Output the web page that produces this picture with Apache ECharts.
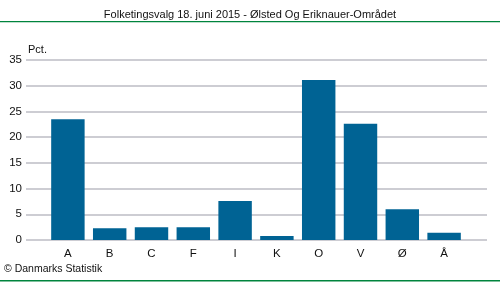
<!DOCTYPE html>
<html><head><meta charset="utf-8">
<script src="https://cdn.jsdelivr.net/npm/echarts@6/dist/echarts.min.js"></script>
<style>html,body{margin:0;padding:0;background:#fff}#c{width:500px;height:282px}</style>
</head><body><div id="c"></div>
<script>
const categories = ['A','B','C','F','I','K','O','V','Ø','Å'];
const values = [23.5, 2.3, 2.5, 2.5, 7.6, 0.8, 31.1, 22.6, 6.0, 1.4];
const yTicks = [0,5,10,15,20,25,30,35];
const titleText = 'Folketingsvalg 18. juni 2015 - Ølsted Og Eriknauer-Området';
const unitText = 'Pct.';
const footerText = '© Danmarks Statistik';

const font = 'Liberation Sans, Arial, sans-serif';
const chart = echarts.init(document.getElementById('c'), null, {renderer:'canvas'});
chart.setOption({
  animation:false,
  backgroundColor:'#fff',
  title:[
    {text:titleText,left:'center',top:9,padding:0,textStyle:{fontFamily:font,fontSize:11,fontWeight:'normal',color:'#111'}},
    {text:unitText,left:28,top:44,padding:0,textStyle:{fontFamily:font,fontSize:11,fontWeight:'normal',color:'#111'}},
    {text:footerText,left:4,top:264,padding:0,textStyle:{fontFamily:font,fontSize:10.5,fontWeight:'normal',color:'#111'}}
  ],
  graphic:[
    {type:'rect',shape:{x:0,y:21,width:500,height:1.2},style:{fill:'#00843d'}},
    {type:'rect',shape:{x:0,y:280,width:500,height:1.5},style:{fill:'#00843d'}}
  ],
  grid:[
    {left:26,right:13,top:60,bottom:42,containLabel:false},
    {left:47,right:35,top:60,bottom:42,containLabel:false}
  ],
  xAxis:[
    {gridIndex:0,type:'value',min:0,max:1,show:false},
    {gridIndex:1,type:'category',data:categories,axisLine:{show:false},axisTick:{show:false},
     axisLabel:{fontFamily:font,fontSize:11.5,color:'#111',margin:8}}
  ],
  yAxis:[
    {gridIndex:0,type:'value',min:yTicks[0],max:yTicks[yTicks.length-1],interval:5,
     axisLine:{show:false},axisTick:{show:false},
     axisLabel:{fontFamily:font,fontSize:11.5,color:'#111',margin:4},
     splitLine:{lineStyle:{color:'#bdbdc4',width:1.5}}},
    {gridIndex:1,type:'value',min:yTicks[0],max:yTicks[yTicks.length-1],interval:5,show:false,splitLine:{show:false}}
  ],
  series:[{
    type:'bar',xAxisIndex:1,yAxisIndex:1,data:values,barCategoryGap:'20%',
    itemStyle:{color:'#006394'}
  }]
});
</script></body></html>
